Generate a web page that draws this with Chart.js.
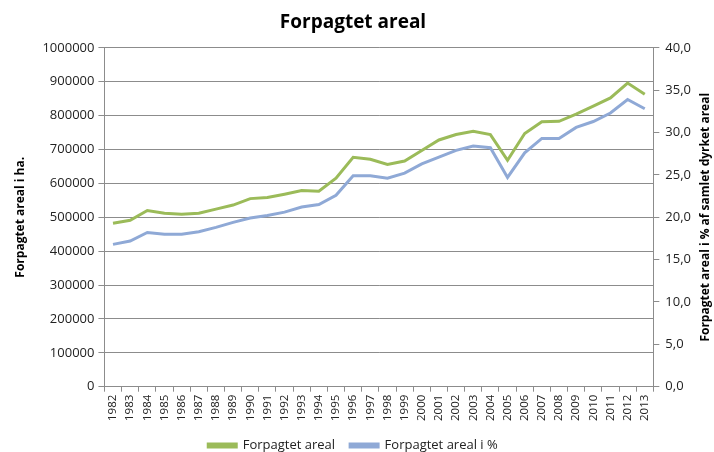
<!DOCTYPE html>
<html>
<head>
<meta charset="utf-8">
<script src="https://cdn.jsdelivr.net/npm/chart.js@4/dist/chart.umd.min.js"></script>
<style>
html,body{margin:0;padding:0;background:#fff;}
#c{display:block;}
</style>
</head>
<body>
<canvas id="c" width="714" height="452"></canvas>
<script>
const years = ["1982","1983","1984","1985","1986","1987","1988","1989","1990","1991","1992","1993","1994","1995","1996","1997","1998","1999","2000","2001","2002","2003","2004","2005","2006","2007","2008","2009","2010","2011","2012","2013"];
const arealHa = [482000,491000,520000,512000,509000,512000,524000,536000,555000,558000,568000,579000,577000,615000,677000,671000,656000,666000,697000,728000,744000,754000,744000,668000,747000,782000,783000,804000,828000,852000,896000,863000];
const arealPct = [16.8,17.2,18.2,18.0,18.0,18.3,18.8,19.4,19.9,20.2,20.6,21.2,21.5,22.6,24.9,24.9,24.6,25.2,26.3,27.1,27.9,28.4,28.2,24.7,27.6,29.3,29.3,30.6,31.3,32.3,33.9,32.8];
const leftTicksMax = 1000000;
const rightTicksMax = 40;
const rightTitle = 'Forpagtet areal i % af samlet dyrket areal';

const fontFam = "'Open Sans', 'Liberation Sans', sans-serif";
const gridCol = '#8c8c8c';

const rightTitlePlugin = {
  id: 'rightTitle',
  afterDraw(chart) {
    const ctx = chart.ctx;
    const area = chart.chartArea;
    ctx.save();
    ctx.font = "bold 12px " + fontFam;
    ctx.fillStyle = '#000';
    ctx.textAlign = 'center';
    ctx.textBaseline = 'middle';
    ctx.translate(chart.width - 8, (area.top + area.bottom) / 2);
    ctx.rotate(-Math.PI / 2);
    ctx.fillText(rightTitle, 0, 0);
    ctx.restore();
  }
};

new Chart(document.getElementById('c'), {
  type: 'line',
  data: {
    labels: years,
    datasets: [
      {label: 'Forpagtet areal', data: arealHa, yAxisID: 'y', borderColor: '#9BBB59', backgroundColor: '#9BBB59', borderWidth: 3, pointRadius: 0, tension: 0},
      {label: 'Forpagtet areal i %', data: arealPct, yAxisID: 'y1', borderColor: '#8FA9D6', backgroundColor: '#8FA9D6', borderWidth: 3, pointRadius: 0, tension: 0}
    ]
  },
  options: {
    responsive: false,
    devicePixelRatio: 1,
    animation: false,
    layout: {padding: {left: 9, right: 17, top: 8, bottom: -10}},
    plugins: {
      title: {display: true, text: 'Forpagtet areal', color: '#000', font: {family: fontFam, size: 19, weight: 'bold'}, padding: {top: 3, bottom: 14}},
      legend: {position: 'bottom', labels: {color: '#222', font: {family: fontFam, size: 13}, boxWidth: 28, boxHeight: 3, padding: 15}},
      tooltip: {enabled: false}
    },
    scales: {
      x: {
        offset: true,
        grid: {offset: true, drawOnChartArea: false, color: gridCol, tickLength: 5},
        border: {color: gridCol},
        ticks: {minRotation: 90, maxRotation: 90, autoSkip: false, color: '#222', font: {family: fontFam, size: 11.5}, padding: 3}
      },
      y: {
        position: 'left',
        min: 0, max: leftTicksMax,
        ticks: {stepSize: 100000, color: '#222', font: {family: fontFam, size: 13}, callback: v => String(v), padding: 4},
        grid: {color: gridCol, tickLength: 6},
        border: {color: gridCol},
        title: {display: true, text: 'Forpagtet areal i ha.', color: '#000', font: {family: fontFam, size: 12, weight: 'bold'}, padding: {top: 4, bottom: 11}}
      },
      y1: {
        position: 'right',
        min: 0, max: rightTicksMax,
        ticks: {stepSize: 5, color: '#222', font: {family: fontFam, size: 13}, callback: v => v.toFixed(1).replace('.', ','), padding: 6},
        grid: {drawOnChartArea: false, color: gridCol, tickLength: 6},
        border: {color: gridCol}
      }
    }
  },
  plugins: [rightTitlePlugin]
});
</script>
</body>
</html>
